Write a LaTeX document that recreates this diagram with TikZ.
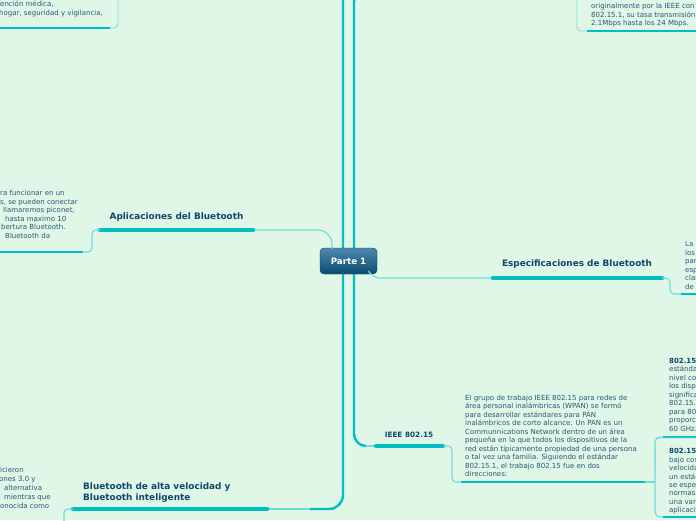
\documentclass[tikz,border=0pt]{standalone}
\usepackage{fontspec}
\setmainfont{DejaVu Sans}
\definecolor{bgc}{RGB}{224,246,230}
\definecolor{barc}{RGB}{0,190,196}
\definecolor{linkc}{RGB}{110,220,216}
\definecolor{framec}{RGB}{130,222,214}
\definecolor{titlec}{RGB}{14,72,108}
\definecolor{bodyc}{RGB}{38,88,122}
\definecolor{nodetop}{RGB}{78,138,172}
\definecolor{nodebot}{RGB}{10,76,114}
\tikzset{
  bar/.style={draw=barc, line width=4.5pt, line cap=round},
  minibar/.style={draw=barc, line width=2pt},
  link/.style={draw=linkc, line width=1.1pt, rounded corners=4pt},
  trunk/.style={draw=barc, line width=2.4pt},
  frame/.style={draw=framec, line width=0.8pt, rounded corners=4pt},
  title/.style={font=\bfseries\fontsize{8.9}{11}\selectfont, text=titlec, inner sep=0pt},
  body/.style={font=\fontsize{7}{8.5}\selectfont, text=bodyc, inner sep=0pt, anchor=base west},
  bodyb/.style={body, font=\bfseries\fontsize{7}{8.5}\selectfont, text=titlec},
}
\begin{document}
\begin{tikzpicture}[x=1pt,y=-1pt]
\useasboundingbox (0,0) rectangle (696,520);
\fill[bgc] (0,0) rectangle (696,520);
\clip (0,0) rectangle (696,520);

% coordinates of topic bars
\coordinate (apL) at (100,230); \coordinate (apR) at (253,230);
\coordinate (esL) at (493,278); \coordinate (esR) at (662,278);
\coordinate (ieL) at (376,446); \coordinate (ieR) at (443,446);
\coordinate (btL) at (73,509);  \coordinate (btR) at (267,509);
\coordinate (deL) at (461,482); \coordinate (deR) at (645,482);
\coordinate (r1L) at (663,437); \coordinate (r2L) at (663,517);
\coordinate (mlR) at (83,252);  \coordinate (rmL) at (681,294);
\coordinate (blE) at (64,530);

% trunks
\draw[trunk, rounded corners=14pt] (343,-10) -- (343,509) -- (310,509);
\draw[link] (310,509) -- (btR);
\draw[trunk, rounded corners=12pt] (390,-10) -| (354,446) -- (366,446);
\draw[link] (366,446) -- (ieL);

% central node
\node[rounded corners=4pt, top color=nodetop, bottom color=nodebot, draw=nodebot!80!black, line width=0.4pt,
  minimum width=57pt, minimum height=26pt, inner sep=0pt, text=white,
  font=\bfseries\fontsize{8.7}{10}\selectfont] (pa) at (348.5,261) {Parte 1};

% links from central node
\draw[link, rounded corners=14pt] (apR) -- (332,230) -- (332,249);
\draw[link] (368,271) to[out=-50,in=180] (384,278) -- (esL);

% topic bars
\draw[bar] (apL) -- (apR);
\draw[bar] (esL) -- (esR);
\draw[bar] (ieL) -- (ieR);
\draw[bar] (btL) -- (btR);

% titles
\node[title] (tap) at (176.5,217.5) {Aplicaciones del Bluetooth};
\node[title] (tes) at (577,264.5) {Especificaciones de Bluetooth};
\node[title, font=\bfseries\fontsize{7.3}{9}\selectfont] (tie) at (409,434.5) {IEEE 802.15};
\node[title, anchor=base west] (tbt1) at (83,489.5) {Bluetooth de alta velocidad y};
\node[title, anchor=base west] (tbt2) at (83,500.5) {Bluetooth inteligente};

% sub-links
\draw[link] (apL) -- (92,230) -- (92,252) -- (mlR);
\draw[minibar] (-5,252) -- (mlR);
\draw[link] (esR) -- (670,278) -- (670,294) -- (rmL);
\draw[minibar] (rmL) -- (700,294);
\draw[link] (ieR) -- (452,446) -- (452,482) -- (deL);
\draw[minibar] (deL) -- (deR);
\draw[link] (deR) -- (655,482);
\draw[link, rounded corners=5pt] (r1L) -- (655,437) -- (655,517) -- (r2L);
\draw[minibar] (r1L) -- (700,437);
\draw[minibar] (r2L) -- (700,517);
\draw[link] (btL) -- (64,509) -- (blE);

% frames
\draw[frame] (-10,28) -| (118,-10);
\draw[minibar] (-5,28) -- (110,28);
\draw[frame] (710,31) -| (577,-10);
\draw[minibar] (587,31) -- (700,31);
\draw[frame] (710,438) -| (655,470);

% body texts
\node[body] (tl1) at (0,6.3) {ención médica,};
\node[body] (tl2) at (-1,15) {hogar, seguridad y vigilancia,};

\node[body] (tr1) at (591,8.3) {originalmente por la IEEE con};
\node[body] (tr2) at (591,17) {802.15.1, su tasa transmisión};
\node[body] (tr3) at (591,25.6) {2.1Mbps hasta los 24 Mbps.};

\node[body] (ml1) at (0,195.8) {ra funcionar en un};
\node[body] (ml2) at (0,204.3) {s, se pueden conectar};
\node[body] (ml3) at (3,212.8) {llamaremos piconet,};
\node[body] (ml4) at (5,221.3) {hasta maximo 10};
\node[body] (ml5) at (1,229.8) {bertura Bluetooth.};
\node[body] (ml6) at (5,238.3) {Bluetooth da};

\node[body] (bl1) at (0,472.8) {icieron};
\node[body] (bl2) at (-1,481.8) {ones 3.0 y};
\node[body] (bl3) at (4,490.8) {alternativa};
\node[body] (bl4) at (4,499.8) {mientras que};
\node[body] (bl5) at (0,508.3) {onocida como};

\foreach \t [count=\i from 0] in {{La},{los},{par},{esp},{clas},{de}}
  \node[body] (rm\i) at (685,246.8+8.5*\i) {\t};

\foreach \t [count=\i from 0] in {{El grupo de trabajo IEEE 802.15 para redes de},
  {área personal inalámbricas (WPAN) se formó},
  {para desarrollar estándares para PAN},
  {inalámbricos de corto alcance. Un PAN es un},
  {Communnications Network dentro de un área},
  {pequeña en la que todos los dispositivos de la},
  {red están típicamente propiedad de una persona},
  {o tal vez una familia. Siguiendo el estándar},
  {802.15.1, el trabajo 802.15 fue en dos},
  {direcciones:}}
  \node[body] (de\i) at (465,400.3+8.5*\i) {\t};

\node[bodyb] (r1t) at (669,363.3) {802.15};
\foreach \t [count=\i from 1] in {{estánda},{nivel co},{los dispo},{significa},{802.15.},{para 80},{proporc},{60 GHz.}}
  \node[body] (r1\i) at (669,363.3+8.5*\i) {\t};

\node[bodyb] (r2t) at (669,453.8) {802.15};
\foreach \t [count=\i from 1] in {{bajo cos},{velocida},{un están},{se espe},{normas},{una var},{aplicaci}}
  \node[body] (r2\i) at (669,453.8+8.4*\i) {\t};
\end{tikzpicture}
\end{document}
